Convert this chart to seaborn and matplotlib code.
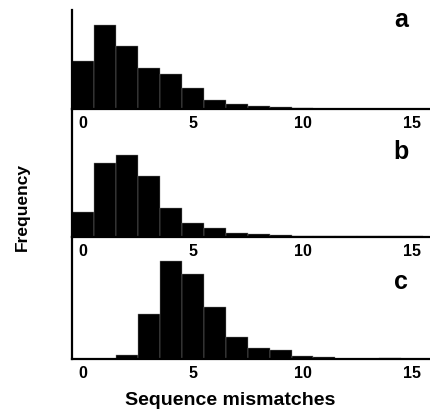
import numpy as np
import pandas as pd
import seaborn as sns
import matplotlib.pyplot as plt

# mismatch counts 0..15 and bar heights
mismatches = list(range(16))
freq_a = [146, 252, 191, 125, 106, 63, 29, 15, 11, 8, 3, 2, 2, 1, 1, 1]
freq_b = [73, 222, 245, 183, 85, 41, 25, 10, 8, 4, 2, 2, 2, 1, 1, 1]
freq_c = [1, 1, 12, 135, 296, 256, 158, 66, 33, 28, 9, 6, 2, 2, 5, 1]
panel_labels = ["a", "b", "c"]
tick_vals = [0, 5, 10, 15]

sns.set_style("white")
plt.rcParams["font.family"] = ["Liberation Sans", "DejaVu Sans"]
plt.rcParams["text.color"] = "black"
plt.rcParams["xtick.color"] = "black"

fig = plt.figure(figsize=(4.3, 4.15), dpi=100)
H = 415.0
# (top px, baseline px, ymax)
boxes = [(10, 109.3, 298), (109.3, 236.7, 382), (236.7, 359.3, 368)]
series = [freq_a, freq_b, freq_c]
label_y = [20, 152, 282]
left = 71.7 / 430

for i, (top, base, ymax) in enumerate(boxes):
    ax = fig.add_axes([left, 1 - base / H, 1 - left, (base - top) / H])
    df = pd.DataFrame({"mismatch": mismatches, "freq": series[i]})
    sns.barplot(data=df, x="mismatch", y="freq", color="black", width=1.0,
                edgecolor="#8a8a8a", linewidth=0.3, saturation=1, ax=ax)
    ax.set_xlim(-0.5, 15.8)
    ax.set_ylim(0, ymax)
    ax.set_xticks(tick_vals)
    ax.set_xticklabels([str(t) for t in tick_vals], fontweight="heavy", fontsize=11.5)
    ax.set_yticks([])
    ax.set_xlabel("")
    ax.set_ylabel("")
    ax.tick_params(axis="x", length=0, pad=5)
    ax.patch.set_alpha(0)
    for s in ["top", "right"]:
        ax.spines[s].set_visible(False)
    ax.spines["left"].set_linewidth(1.6)
    ax.spines["bottom"].set_linewidth(1.6)
    ax.spines["left"].set_color("black")
    ax.spines["bottom"].set_color("black")
    fig.text(401 / 430, 1 - label_y[i] / H, panel_labels[i], fontsize=18,
             fontweight="heavy", ha="center", va="center")

fig.text(22 / 430, 1 - 207 / H, "Frequency", rotation=90, fontsize=12.5,
         fontweight="heavy", ha="center", va="center")
fig.text(230 / 430, 1 - 400 / H, "Sequence mismatches", fontsize=14,
         fontweight="heavy", ha="center", va="center")

fig.savefig("out.png", dpi=100)
